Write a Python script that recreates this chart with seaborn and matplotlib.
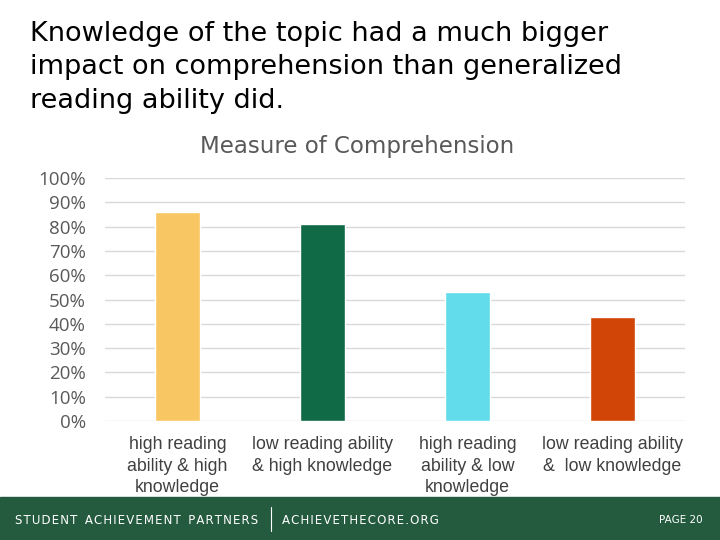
import pandas as pd
import seaborn as sns
import matplotlib
matplotlib.use('Agg')
import matplotlib.pyplot as plt
from matplotlib.ticker import PercentFormatter

# Data
groups = ['high reading\nability & high\nknowledge',
          'low reading ability\n& high knowledge',
          'high reading\nability & low\nknowledge',
          'low reading ability\n&  low knowledge']
comprehension = [0.86, 0.81, 0.53, 0.43]
bar_colors = ['#F8C662', '#0F6A45', '#62DCEB', '#D14506']

df = pd.DataFrame({'group': groups, 'score': comprehension})


def spaced(s):
    # hair space between letters, like the letter-spaced footer logo
    return '\u200a'.join(s)


sns.set_style('white')
fig = plt.figure(figsize=(7.2, 5.4), dpi=100)
ax = fig.add_axes([0.146, 0.2204, 0.805, 0.4496])

sns.barplot(data=df, x='group', y='score', hue='group', palette=bar_colors,
            width=0.31, legend=False, saturation=1, ax=ax)

ax.set_xlim(-0.5, 3.5)
ax.set_ylim(0, 1.0)
ax.set_yticks([i / 10 for i in range(11)])
ax.yaxis.set_major_formatter(PercentFormatter(1.0, decimals=0))
ax.grid(axis='y', color='#D9D9D9', lw=1)
ax.set_axisbelow(True)
sns.despine(ax=ax, left=True, bottom=True, top=True, right=True)
ax.set_xlabel('')
ax.set_ylabel('')
ax.tick_params(axis='y', length=0, pad=14, labelsize=13.5, labelcolor='#595959')
ax.tick_params(axis='x', length=0, pad=11, labelcolor='#404040')
for lbl in ax.get_yticklabels():
    lbl.set_family('Open Sans')
for lbl in ax.get_xticklabels():
    lbl.set_family('Liberation Sans')
    lbl.set_fontsize(12.8)
    lbl.set_linespacing(1.33)

# Chart title
fig.text(0.496, 0.729, 'Measure of Comprehension', ha='center', va='center',
         fontsize=16.5, color='#595959', family='DejaVu Sans')

# Slide headline
fig.text(0.041, 0.962, 'Knowledge of the topic had a much bigger\n'
         'impact on comprehension than generalized\nreading ability did.',
         ha='left', va='top', fontsize=19.5, color='black', linespacing=1.38,
         family='DejaVu Sans')

# Footer banner
fig.patches.append(plt.Rectangle((0, 0), 1, 43 / 540, transform=fig.transFigure,
                                 color='#245B3E', zorder=0))
fig.text(0.021, 0.037, '  '.join(spaced(w) for w in ['STUDENT', 'ACHIEVEMENT', 'PARTNERS']),
         ha='left', va='center', fontsize=8.5, color='white', family='DejaVu Sans')
fig.add_artist(plt.Line2D([0.377, 0.377], [0.016, 0.062], color='white', lw=0.8,
                          transform=fig.transFigure))
fig.text(0.391, 0.037, spaced('ACHIEVETHECORE.ORG'),
         ha='left', va='center', fontsize=8.5, color='white', family='DejaVu Sans')
fig.text(0.976, 0.037, 'PAGE 20', ha='right', va='center', fontsize=7.5,
         color='white', family='DejaVu Sans')

plt.savefig('out.png', dpi=100)
